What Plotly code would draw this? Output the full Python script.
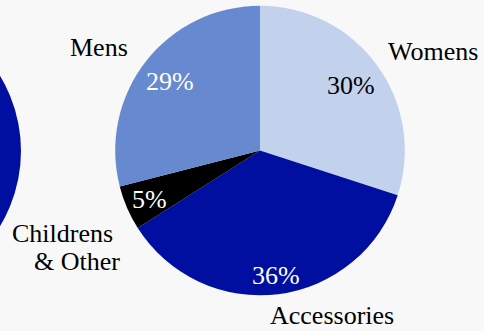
import math
import plotly.graph_objects as go

categories = ["Womens", "Accessories", "Childrens & Other", "Mens"]
values = [30, 36, 5, 29]
label_lines = [["Womens"], ["Accessories"], ["Childrens", "& Other"], ["Mens"]]

colors = ["#c2d1ec", "#000f9f", "#000000", "#6789cf"]
pct_colors = ["#000000", "#ffffff", "#ffffff", "#ffffff"]
pct_radius = [0.78, 0.86, 0.83, 0.79]   # radial placement of % text (fraction of radius)
FONT = "Liberation Serif"
FS = 26
W, H = 484, 331
BG = "#f8f8f8"
CX, CY, R = 260, 150.5, 144.8

fig = go.Figure()
fig.add_trace(go.Pie(
    labels=categories, values=values, sort=False, direction="clockwise", rotation=0,
    marker=dict(colors=colors, line=dict(width=0)),
    textinfo="none",
    domain=dict(x=[(CX - R) / W, (CX + R) / W], y=[1 - (CY + R) / H, 1 - (CY - R) / H]),
    showlegend=False, hoverinfo="label+percent",
))

# percentage labels at each slice's mid-angle
total = sum(values)
start = 90.0
for v, c, rf in zip(values, pct_colors, pct_radius):
    sweep = 360.0 * v / total
    mid = math.radians(start - sweep / 2)
    start -= sweep
    fig.add_annotation(x=CX + rf * R * math.cos(mid), y=CY - rf * R * math.sin(mid) + 1,
                       xref="x", yref="y", text=f"{round(100 * v / total)}%", showarrow=False,
                       xanchor="center", yanchor="middle",
                       font=dict(family=FONT, size=FS, color=c))

# outside category labels (pixel positions, one per line)
label_pos = [[(433, 51)], [(332, 315)], [(62, 233), (77, 261)], [(99, 47)]]
for lines, poss in zip(label_lines, label_pos):
    for txt, (px, py) in zip(lines, poss):
        fig.add_annotation(x=px, y=py, xref="x", yref="y", text=txt,
                           showarrow=False, xanchor="center", yanchor="middle",
                           font=dict(family=FONT, size=FS, color="#000000"))

# partial neighbouring pie on the left edge
fig.add_shape(type="circle", xref="x", yref="y", x0=-269, x1=21, y0=6, y1=296,
              fillcolor="#000f9f", line=dict(width=0), layer="below")

fig.update_layout(
    width=W, height=H, margin=dict(l=0, r=0, t=0, b=0),
    paper_bgcolor=BG, plot_bgcolor=BG,
    xaxis=dict(range=[0, W], visible=False, fixedrange=True),
    yaxis=dict(range=[H, 0], visible=False, fixedrange=True),
)
fig.write_html("out.html")
